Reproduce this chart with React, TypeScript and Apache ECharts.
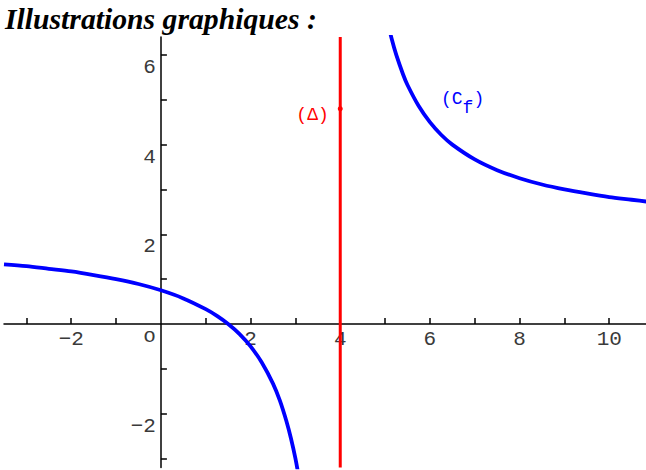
import React, { useEffect, useRef } from "react";
import * as echarts from "echarts";

// Branch of (C_f) left of the vertical asymptote
const leftBranchX = [-3.5, -3, -2.5, -2, -1.5, -1, -0.5, 0, 0.5, 1, 1.25, 1.5, 1.75, 2, 2.25, 2.5, 2.65, 2.8, 2.9, 3, 3.1];
const leftBranchY = [1.33, 1.29, 1.23, 1.17, 1.09, 1.0, 0.89, 0.75, 0.57, 0.33, 0.18, 0.0, -0.22, -0.5, -0.86, -1.33, -1.7, -2.17, -2.55, -3.0, -3.55];

// Branch of (C_f) right of the vertical asymptote
const rightBranchX = [5.05, 5.15, 5.25, 5.4, 5.5, 5.75, 6, 6.25, 6.5, 7, 7.5, 8, 8.5, 9, 9.5, 10, 10.5, 10.9];
const rightBranchY = [6.76, 6.35, 6.0, 5.57, 5.33, 4.86, 4.5, 4.22, 4.0, 3.67, 3.43, 3.25, 3.11, 3.0, 2.91, 2.83, 2.77, 2.72];

// Vertical asymptote (Δ): x = 4, with its marked point
const asymptoteX = 4;
const asymptoteMarkY = 4.8;

// Axis ranges, ticks and labels
const xMin = -3.5;
const xMax = 10.82;
const yMin = -3.2;
const yMax = 6.4;
const xTicks = [-3, -2, -1, 1, 2, 3, 4, 5, 6, 7, 8, 9, 10];
const xLabels = [-2, 2, 4, 6, 8, 10];
const yTicks = [-3, -2, -1, 1, 2, 3, 4, 5, 6];
const yLabels = [-2, 0, 2, 4, 6];

const zip = (xs: number[], ys: number[]) => xs.map((x, i) => [x, ys[i]]);

const MONO = "'Liberation Mono', 'DejaVu Sans Mono', monospace";

const fmt = (v: number) => (v === 0 ? "o" : v < 0 ? "\u2212" + Math.abs(v) : String(v));

// plot box in pixels
const GRID_LEFT = 4;
const GRID_TOP = 37;
const GRID_W = 642;
const GRID_H = 430.4;

export default function App() {
  const ref = useRef<HTMLDivElement>(null);

  useEffect(() => {
    if (!ref.current) return;
    const chart = echarts.init(ref.current, undefined, { renderer: "svg" });

    // shift each axis from the plot edge onto the other axis' zero
    const xZeroShift = -(GRID_H * (0 - yMin)) / (yMax - yMin);
    const yZeroShift = -(GRID_W * (0 - xMin)) / (xMax - xMin);

    const option: any = {
      animation: false,
      backgroundColor: "#ffffff",
      grid: {
        left: GRID_LEFT,
        top: GRID_TOP,
        width: GRID_W,
        height: GRID_H,
        containLabel: false,
        outerBoundsMode: "none",
      },
      xAxis: {
        type: "value",
        min: xMin,
        max: xMax,
        position: "bottom",
        offset: xZeroShift,
        axisLine: { show: true, onZero: false, lineStyle: { color: "#000", width: 1.5 } },
        axisTick: { show: true, inside: true, length: 6, customValues: xTicks, lineStyle: { color: "#000", width: 1.5 } },
        axisLabel: {
          show: true,
          customValues: xLabels,
          formatter: fmt,
          margin: 5,
          color: "#3a3a3a",
          fontFamily: MONO,
          fontSize: 21,
        },
        splitLine: { show: false },
      },
      yAxis: {
        type: "value",
        min: yMin,
        max: yMax,
        position: "left",
        offset: yZeroShift,
        axisLine: { show: true, onZero: false, lineStyle: { color: "#000", width: 1.5 } },
        axisTick: { show: true, inside: true, length: 6, customValues: yTicks, lineStyle: { color: "#000", width: 1.5 } },
        axisLabel: {
          show: true,
          customValues: yLabels,
          formatter: fmt,
          margin: 5,
          verticalAlign: "top",
          padding: [2, 0, 0, 0],
          color: "#3a3a3a",
          fontFamily: MONO,
          fontSize: 21,
        },
        splitLine: { show: false },
      },
      series: [
        {
          name: "Cf-left",
          type: "line",
          data: zip(leftBranchX, leftBranchY),
          smooth: 0.3,
          showSymbol: false,
          lineStyle: { color: "#0000ff", width: 3.8 },
          clip: true,
        },
        {
          name: "Cf-right",
          type: "line",
          data: zip(rightBranchX, rightBranchY),
          smooth: 0.3,
          showSymbol: false,
          lineStyle: { color: "#0000ff", width: 3.8 },
          clip: true,
        },
        {
          name: "Delta",
          type: "line",
          data: [
            { value: [asymptoteX, yMin], symbol: "none" },
            {
              value: [asymptoteX, asymptoteMarkY],
              symbol: "circle",
              symbolSize: 5,
              itemStyle: { color: "#ff0000" },
              label: {
                show: true,
                position: "left",
                distance: 9,
                offset: [0, 6],
                formatter: "(\u0394)",
                color: "#ff0000",
                fontFamily: MONO,
                fontSize: 18,
              },
            },
            { value: [asymptoteX, yMax], symbol: "none" },
          ],
          showSymbol: true,
          lineStyle: { color: "#ff0000", width: 3 },
          z: 3,
        },
      ],
      graphic: [
        {
          type: "text",
          left: 5,
          top: 4,
          style: {
            text: "Illustrations graphiques :",
            font: "italic bold 29.7px 'Liberation Serif', 'Times New Roman', serif",
            fill: "#000",
          },
        },
        {
          type: "text",
          x: 441,
          y: 90,
          style: {
            text: "{a|(C}{s|f}{a|)}",
            rich: {
              a: { fontFamily: MONO, fontSize: 18, fill: "#0000ff", verticalAlign: "top" },
              s: { fontFamily: MONO, fontSize: 18, fill: "#0000ff", verticalAlign: "bottom", padding: [9, 0, 0, 0] },
            },
          },
        },
      ],
    };

    chart.setOption(option);
    return () => chart.dispose();
  }, []);

  return (
    <div
      ref={ref}
      style={{ position: "fixed", left: 0, top: 0, width: 646, height: 470, background: "#fff" }}
    />
  );
}
